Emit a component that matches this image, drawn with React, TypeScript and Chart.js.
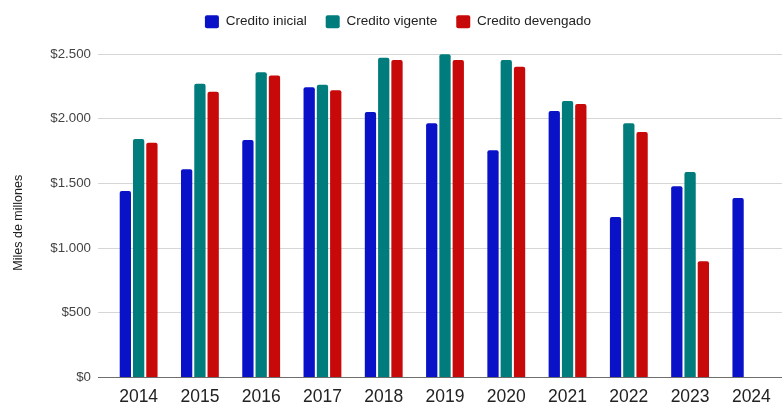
import React, { useEffect, useRef } from 'react';
import { Chart, registerables } from 'chart.js';

Chart.register(...registerables);

const years = ['2014', '2015', '2016', '2017', '2018', '2019', '2020', '2021', '2022', '2023', '2024'];
const creditoInicial = [1441, 1609, 1835, 2243, 2052, 1964, 1756, 2060, 1240, 1478, 1387];
const creditoVigente = [1843, 2271, 2359, 2263, 2471, 2498, 2454, 2137, 1964, 1588, null];
const creditoDevengado = [1815, 2209, 2333, 2219, 2454, 2454, 2402, 2114, 1897, 898, null];
const seriesNames = ['Credito inicial', 'Credito vigente', 'Credito devengado'];
const seriesColors = ['#0a12c8', '#007c7c', '#c80909'];
const yMin = 0;
const yMax = 2500;
const yStep = 500;
const yTitle = 'Miles de millones';

const fmt = (v: number) => '$' + String(Math.round(v)).replace(/\B(?=(\d{3})+(?!\d))/g, '.');

const legendSpacer = {
  id: 'legendSpacer',
  beforeInit(chart: any) {
    const legend = chart.legend;
    if (!legend) return;
    const originalFit = legend.fit;
    legend.fit = function fit() {
      originalFit.call(this);
      this.height += 15.5;
    };
  },
  afterLayout(chart: any) {
    const legend = chart.legend;
    if (legend) {
      legend.left += 7;
      legend.right += 7;
    }
    const s = chart.scales && chart.scales.y;
    if (s && !s._titleShifted) {
      const orig = s.drawTitle;
      s.drawTitle = function (...args: any[]) {
        const ctx = this.ctx;
        ctx.save();
        ctx.translate(0.5, 7);
        orig.apply(this, args);
        ctx.restore();
      };
      s._titleShifted = true;
    }
  },
};

export default function App() {
  const canvasRef = useRef<HTMLCanvasElement | null>(null);

  useEffect(() => {
    if (!canvasRef.current) return;
    const data = [creditoInicial, creditoVigente, creditoDevengado];
    const chart = new Chart(canvasRef.current, {
      type: 'bar',
      data: {
        labels: years,
        datasets: data.map((d, i) => ({
          label: seriesNames[i],
          data: d,
          backgroundColor: seriesColors[i],
          borderWidth: 0,
          borderRadius: 2,
          categoryPercentage: 0.65,
          barPercentage: 0.85,
        })),
      },
      options: {
        animation: false,
        responsive: true,
        maintainAspectRatio: false,
        devicePixelRatio: 1,
        layout: { padding: { top: -4, left: 0, right: 0, bottom: 0 } },
        plugins: {
          tooltip: { enabled: false },
          legend: {
            display: true,
            position: 'top',
            labels: {
              boxWidth: 14,
              boxHeight: 13,
              padding: 19,
              color: '#222',
              font: { family: 'Arial, "Liberation Sans", sans-serif', size: 13.5 },
              useBorderRadius: true,
              borderRadius: 2,
            },
          },
        },
        scales: {
          x: {
            grid: { display: false, drawTicks: false },
            border: { display: false },
            ticks: {
              color: '#222',
              padding: 9,
              font: { family: 'Arial, "Liberation Sans", sans-serif', size: 17.5 },
              maxRotation: 0,
            },
            afterFit: (scale: any) => {
              scale.height = 28.5;
            },
          },
          y: {
            min: yMin,
            max: yMax,
            border: { display: false },
            grid: {
              color: (ctx: any) => (ctx.tick && ctx.tick.value === 0 ? '#6e6e6e' : '#d6d6d6'),
              lineWidth: 1,
              drawTicks: true,
              tickLength: 10,
            },
            ticks: {
              stepSize: yStep,
              color: '#444',
              padding: 7,
              font: { family: 'Arial, "Liberation Sans", sans-serif', size: 13.3 },
              callback: (v: any) => fmt(Number(v)),
            },
            title: {
              display: true,
              text: yTitle,
              color: '#222',
              font: { family: 'Arial, "Liberation Sans", sans-serif', size: 12.5 },
              padding: { top: 10.5, bottom: 0 },
            },
            afterFit: (scale: any) => {
              scale.width = 108;
            },
          },
        },
      },
      plugins: [legendSpacer],
    } as any);
    return () => chart.destroy();
  }, []);

  return (
    <div style={{ position: 'absolute', left: 0, top: 0, width: 782, height: 406, background: '#fff' }}>
      <canvas ref={canvasRef} />
    </div>
  );
}
